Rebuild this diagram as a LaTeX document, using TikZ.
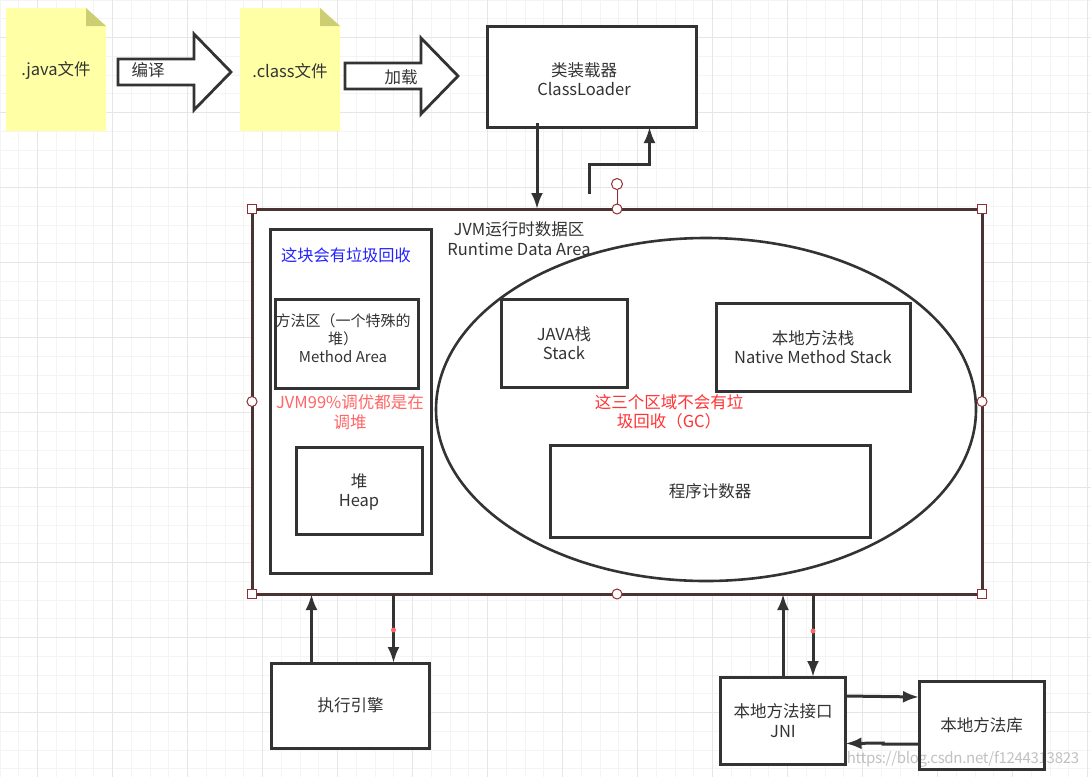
\documentclass[tikz,border=0pt]{standalone}
\usepackage{fontspec}
\usepackage{xcolor}
\setmainfont{Noto Sans CJK SC}
\usetikzlibrary{shapes.geometric}
\usetikzlibrary{arrows.meta}
\definecolor{inkgray}{HTML}{333333}
\definecolor{notefill}{HTML}{FFFFA6}
\definecolor{notefold}{HTML}{CDCD73}
\definecolor{minorgrid}{HTML}{F4F4F4}
\definecolor{majorgrid}{HTML}{E6E6E6}
\definecolor{selframe}{HTML}{4A3333}
\definecolor{handle}{HTML}{8E2F35}
\definecolor{bluenote}{HTML}{2222FF}
\definecolor{rednote}{HTML}{FF6666}
\definecolor{redtext}{HTML}{FF3333}
\tikzset{
  txt/.style={font=\fontsize{16.5}{19.5}\selectfont, text=inkgray, align=center, inner sep=0pt},
  jvmbox/.style={txt, rectangle, draw=inkgray, line width=3pt, fill=white, outer sep=0pt},
  link/.style={draw=inkgray, line width=3pt, -{Latex[length=16pt,width=12pt]}},
  sizer/.style={rectangle, draw=handle, line width=1pt, fill=white, minimum size=9pt, inner sep=0pt},
  knob/.style={circle, draw=handle, line width=1pt, fill=white, minimum size=10pt, inner sep=0pt},
  reddot/.style={circle, fill=rednote, minimum size=5pt, inner sep=0pt}
}
\newcommand\notefile[4]{
  \begin{scope}[shift={(#1,#2)}]
      \fill[notefill] (0,0) -- (80,0) -- (100,18) -- (100,123) -- (0,123) -- cycle;
      \fill[notefold] (80,0) -- (100,18) -- (80,18) -- cycle;
      \node[txt] (#4) at (50,63) {#3};
  \end{scope}
}
\newcommand\blockarrow[5]{
  \begin{scope}[shift={(#1,#2)}]
      \draw[draw=inkgray, line width=2.8pt, fill=white] (0,25) -- (76,25) -- (76,0) -- (113,38) -- (76,76) -- (76,51) -- (0,51) -- cycle;
      \node[txt] (#5) at (#3) {#4};
  \end{scope}
}
\begin{document}
\begin{tikzpicture}[x=1pt, y=-1pt]
    \useasboundingbox (0,0) rectangle (1091,777);
    \fill[white] (0,0) rectangle (1091,777);
    \foreach \k in {0,...,58} {
      \draw[minorgrid, line width=1pt] (18.75*\k,0) -- (18.75*\k,777);
    }
    \foreach \k in {0,...,41} {
      \draw[minorgrid, line width=1pt] (0,18.75*\k) -- (1091,18.75*\k);
    }
    \foreach \k in {0,...,14} {
      \draw[majorgrid, line width=1pt] (37.5+75*\k,0) -- (37.5+75*\k,777);
    }
    \foreach \k in {0,...,9} {
      \draw[majorgrid, line width=1pt] (0,37.5+75*\k) -- (1091,37.5+75*\k);
    }

    \notefile{6}{8}{.java文件}{javatext}
    \notefile{240}{8}{.class文件}{classtext}
    \blockarrow{118}{34}{30,36}{编译}{compiletext}
    \blockarrow{345}{38}{56,39}{加载}{loadtext}

    \node[jvmbox, minimum width=209pt, minimum height=101pt] (loader) at (591.5,76.5) {};
    \node[txt] (loadertext) at (584,79) {类装载器\\ClassLoader};

    \node[jvmbox, draw=selframe, minimum width=730pt, minimum height=385pt] (jvm) at (617,401.5) {};
    \node[jvmbox, minimum width=161pt, minimum height=344pt] (leftarea) at (350.5,401) {};
    \node[ellipse, draw=inkgray, line width=2.6pt, fill=white, minimum width=540pt, minimum height=343pt, inner sep=0pt] (stackarea) at (706,409.5) {};
    \node[txt] (jvmtext) at (519,238.5) {JVM运行时数据区\\Runtime Data Area};
    \node[txt, text=bluenote, font=\fontsize{16.2}{20}\selectfont] (gctext) at (346,255) {这块会有垃圾回收};

    \node[jvmbox, minimum width=143pt, minimum height=89pt] (method) at (346.5,343.5) {};
    \node[txt, font=\fontsize{15}{18}\selectfont] (methodtext) at (343,338) {方法区（一个特殊的\\堆）\\Method Area};
    \node[txt, text=rednote] (tunetext) at (350,412) {JVM99\%调优都是在\\调堆};
    \node[jvmbox, minimum width=126pt, minimum height=87pt] (heap) at (359,490.5) {};
    \node[txt] (heaptext) at (359,492) {堆\\Heap};

    \node[jvmbox, minimum width=126pt, minimum height=88pt] (javastack) at (564,343) {JAVA栈\\Stack};
    \node[jvmbox, minimum width=194pt, minimum height=88pt] (nativestack) at (813,347) {本地方法栈\\Native Method Stack};
    \node[txt, text=redtext] (nogctext) at (669,412) {这三个区域不会有垃\\圾回收（GC）};
    \node[jvmbox, minimum width=320pt, minimum height=92pt] (counter) at (710,491) {程序计数器};

    \node[jvmbox, minimum width=158.5pt, minimum height=85pt] (engine) at (350.5,705.5) {执行引擎};
    \node[jvmbox, minimum width=125pt, minimum height=87pt] (jni) at (783,720.5) {本地方法接口\\JNI};
    \node[jvmbox, minimum width=125pt, minimum height=88pt] (nativelib) at (981.5,725) {本地方法库};

    \draw[link] ([xshift=-54.5pt, yshift=4pt]loader.south) -- ([xshift=-54.5pt]loader.south |- jvm.north);
    \draw[link] ([xshift=-2.5pt, yshift=15pt]loader.south |- jvm.north) -- ++(0,-30) -- ([xshift=58pt, yshift=45pt]loader.south |- jvm.north) -- ([xshift=58pt]loader.south);
    \draw[link] ([xshift=-39pt]engine.north) -- ([xshift=-39pt]engine.north |- jvm.south);
    \draw[link] ([xshift=43pt]engine.north |- jvm.south) -- ([xshift=43pt]engine.north);
    \draw[link] (jni.north) -- (jni.north |- jvm.south);
    \draw[link] ([xshift=30pt]jni.north |- jvm.south) -- ([xshift=30pt]jni.north);
    \draw[link] ([yshift=24.5pt]jni.east) -- ([yshift=28pt]nativelib.west);
    \draw[link] ([yshift=-19pt]nativelib.west) -- ++(-36,0) -- ++(0,-1) -- ([yshift=-23pt]jni.east);
    \node[reddot] (enginedot) at (393.5,630) {};
    \node[reddot] (jnidot) at (813,631) {};

    % selection handles of the frame
    \foreach \a/\n in {north west/hnw, north east/hne, south west/hsw, south east/hse} {
      \node[sizer] (\n) at (jvm.\a) {};
    }
    \foreach \a/\n in {north/hn, south/hs, west/hw, east/he} {
      \node[knob] (\n) at (jvm.\a) {};
    }
    \node[knob, minimum size=11pt] (hrot) at (617,184) {};
    \draw[handle, line width=1pt] (hrot) -- (hn);

    \node[txt, text=inkgray, text opacity=.3, font=\fontsize{15}{18}\selectfont\addfontfeature{LetterSpace=-2}] (mark) at (963,759) {https://blog.csdn.net/f1244313823};
\end{tikzpicture}
\end{document}
